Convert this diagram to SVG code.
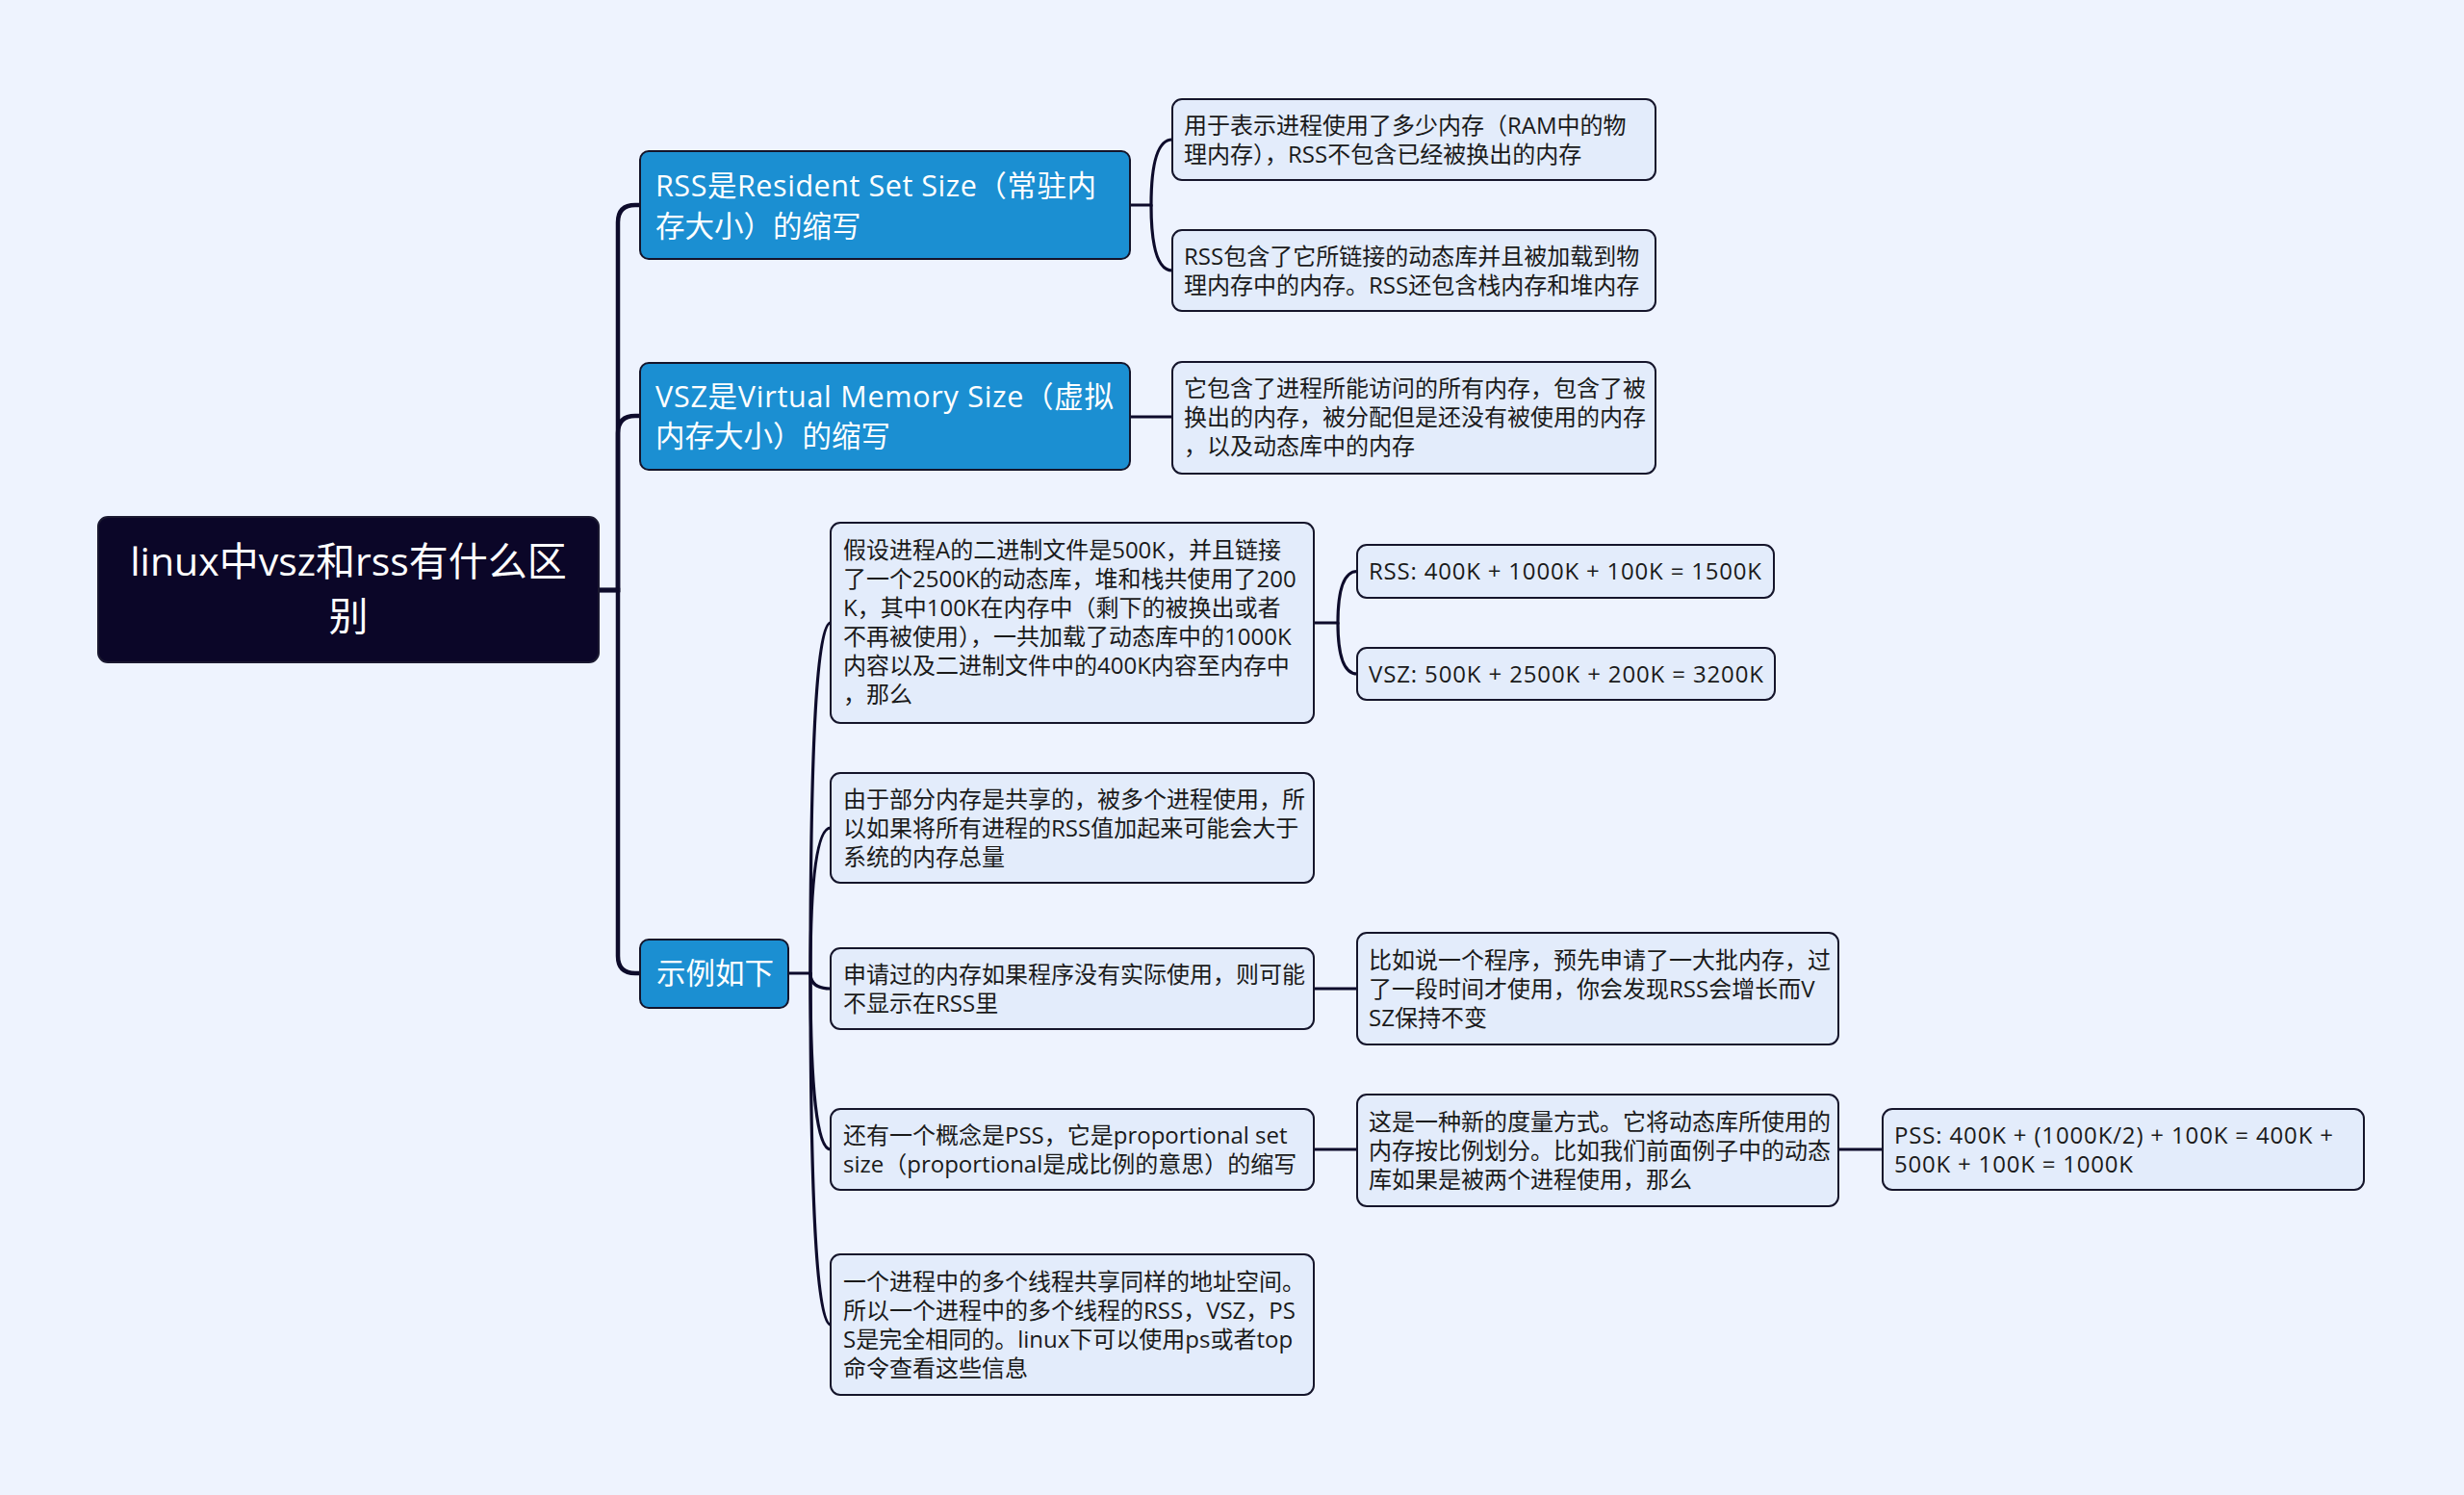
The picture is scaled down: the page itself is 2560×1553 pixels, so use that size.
<svg xmlns="http://www.w3.org/2000/svg" width="2560" height="1553" viewBox="0 0 2560 1553">
<style>
text{font-family:"Open Sans","Noto Sans CJK SC",sans-serif;}
.root{fill:#0b0628;stroke:#1a1830;stroke-width:2;}
.l1{fill:#1b8fd2;stroke:#14142a;stroke-width:2;}
.leaf{fill:#e3ecfb;stroke:#15152b;stroke-width:2;}
.tr{fill:#ffffff;font-size:41px;text-anchor:middle;}
.t1{fill:#ffffff;font-size:30.5px;}
.tl{fill:#1a1a1a;font-size:24px;}
.c{fill:none;stroke:#0d0b2b;stroke-width:3.2;stroke-linecap:round;}
.c0{fill:none;stroke:#0d0b2b;stroke-width:4.5;stroke-linecap:round;}
</style>
<rect x="0" y="0" width="2560" height="1553" fill="#eef3fe"/>
<g id="connectors">
<path class="c0" d="M622 613 H642 V231 Q642 213 660 213 H665"/>
<path class="c0" d="M622 613 H642 V450 Q642 432 660 432 H665"/>
<path class="c0" d="M622 613 H642 V993 Q642 1011 660 1011 H665"/>
<path class="c" d="M1174 213 H1196 Q1196 145 1218 145"/>
<path class="c" d="M1196 213 Q1196 281 1218 281"/>
<path class="c" d="M1174 433 H1218"/>
<path class="c" d="M819 1011 H842 Q842 647 863 647"/>
<path class="c" d="M842 1011 Q842 860 863 860"/>
<path class="c" d="M842 1011 Q842 1027 863 1027"/>
<path class="c" d="M842 1011 Q842 1194 863 1194"/>
<path class="c" d="M842 1011 Q842 1376 863 1376"/>
<path class="c" d="M1365 647 H1390 Q1390 593.5 1410 593.5"/>
<path class="c" d="M1390 647 Q1390 700 1410 700"/>
<path class="c" d="M1365 1027 H1410"/>
<path class="c" d="M1365 1194 H1410"/>
<path class="c" d="M1910 1194 H1956"/>
</g>
<g id="root">
<rect class="root" x="102" y="537" width="520" height="151" rx="10"/>
<text class="tr" x="362" y="598">linux中vsz和rss有什么区</text>
<text class="tr" x="362" y="655">别</text>
</g>
<g id="n-rss">
<rect class="l1" x="665" y="157" width="509" height="112" rx="9"/>
<text class="t1" x="681" y="204" textLength="458" lengthAdjust="spacing">RSS是Resident Set Size（常驻内</text>
<text class="t1" x="681" y="246">存大小）的缩写</text>
</g>
<g id="n-vsz">
<rect class="l1" x="665" y="377" width="509" height="111" rx="9"/>
<text class="t1" x="681" y="423" textLength="476" lengthAdjust="spacing">VSZ是Virtual Memory Size（虚拟</text>
<text class="t1" x="681" y="464">内存大小）的缩写</text>
</g>
<g id="n-example">
<rect class="l1" x="665" y="976" width="154" height="71" rx="9"/>
<text class="t1" x="682" y="1022">示例如下</text>
</g>
<g id="n-rss-1">
<rect class="leaf" x="1218" y="103" width="502" height="84" rx="10"/>
<text class="tl" x="1230" y="139">用于表示进程使用了多少内存（RAM中的物</text>
<text class="tl" x="1230" y="169">理内存），RSS不包含已经被换出的内存</text>
</g>
<g id="n-rss-2">
<rect class="leaf" x="1218" y="239" width="502" height="84" rx="10"/>
<text class="tl" x="1230" y="275">RSS包含了它所链接的动态库并且被加载到物</text>
<text class="tl" x="1230" y="305">理内存中的内存。RSS还包含栈内存和堆内存</text>
</g>
<g id="n-vsz-1">
<rect class="leaf" x="1218" y="376" width="502" height="116" rx="10"/>
<text class="tl" x="1230" y="412">它包含了进程所能访问的所有内存，包含了被</text>
<text class="tl" x="1230" y="442">换出的内存，被分配但是还没有被使用的内存</text>
<text class="tl" x="1230" y="472">，以及动态库中的内存</text>
</g>
<g id="n-ex-1">
<rect class="leaf" x="863" y="543" width="502" height="208" rx="10"/>
<text class="tl" x="876" y="580">假设进程A的二进制文件是500K，并且链接</text>
<text class="tl" x="876" y="610">了一个2500K的动态库，堆和栈共使用了200</text>
<text class="tl" x="876" y="640">K，其中100K在内存中（剩下的被换出或者</text>
<text class="tl" x="876" y="670">不再被使用），一共加载了动态库中的1000K</text>
<text class="tl" x="876" y="700">内容以及二进制文件中的400K内容至内存中</text>
<text class="tl" x="876" y="730">，那么</text>
</g>
<g id="n-rss-calc">
<rect class="leaf" x="1410" y="566" width="433" height="55" rx="10"/>
<text class="tl" x="1422" y="602" textLength="408" lengthAdjust="spacing">RSS: 400K + 1000K + 100K = 1500K</text>
</g>
<g id="n-vsz-calc">
<rect class="leaf" x="1410" y="673" width="434" height="54" rx="10"/>
<text class="tl" x="1422" y="709" textLength="410" lengthAdjust="spacing">VSZ: 500K + 2500K + 200K = 3200K</text>
</g>
<g id="n-ex-2">
<rect class="leaf" x="863" y="803" width="502" height="114" rx="10"/>
<text class="tl" x="876" y="839">由于部分内存是共享的，被多个进程使用，所</text>
<text class="tl" x="876" y="869">以如果将所有进程的RSS值加起来可能会大于</text>
<text class="tl" x="876" y="899">系统的内存总量</text>
</g>
<g id="n-ex-3">
<rect class="leaf" x="863" y="985" width="502" height="84" rx="10"/>
<text class="tl" x="876" y="1021">申请过的内存如果程序没有实际使用，则可能</text>
<text class="tl" x="876" y="1051">不显示在RSS里</text>
</g>
<g id="n-ex-3-1">
<rect class="leaf" x="1410" y="969" width="500" height="116" rx="10"/>
<text class="tl" x="1422" y="1006">比如说一个程序，预先申请了一大批内存，过</text>
<text class="tl" x="1422" y="1036">了一段时间才使用，你会发现RSS会增长而V</text>
<text class="tl" x="1422" y="1066">SZ保持不变</text>
</g>
<g id="n-ex-4">
<rect class="leaf" x="863" y="1152" width="502" height="84" rx="10"/>
<text class="tl" x="876" y="1188">还有一个概念是PSS，它是proportional set</text>
<text class="tl" x="876" y="1218">size（proportional是成比例的意思）的缩写</text>
</g>
<g id="n-ex-4-1">
<rect class="leaf" x="1410" y="1137" width="500" height="116" rx="10"/>
<text class="tl" x="1422" y="1174">这是一种新的度量方式。它将动态库所使用的</text>
<text class="tl" x="1422" y="1204">内存按比例划分。比如我们前面例子中的动态</text>
<text class="tl" x="1422" y="1234">库如果是被两个进程使用，那么</text>
</g>
<g id="n-pss">
<rect class="leaf" x="1956" y="1152" width="500" height="84" rx="10"/>
<text class="tl" x="1968" y="1188" textLength="456" lengthAdjust="spacing">PSS: 400K + (1000K/2) + 100K = 400K +</text>
<text class="tl" x="1968" y="1218" textLength="248" lengthAdjust="spacing">500K + 100K = 1000K</text>
</g>
<g id="n-ex-5">
<rect class="leaf" x="863" y="1303" width="502" height="146" rx="10"/>
<text class="tl" x="876" y="1340">一个进程中的多个线程共享同样的地址空间。</text>
<text class="tl" x="876" y="1370">所以一个进程中的多个线程的RSS，VSZ，PS</text>
<text class="tl" x="876" y="1400">S是完全相同的。linux下可以使用ps或者top</text>
<text class="tl" x="876" y="1430">命令查看这些信息</text>
</g>
</svg>
